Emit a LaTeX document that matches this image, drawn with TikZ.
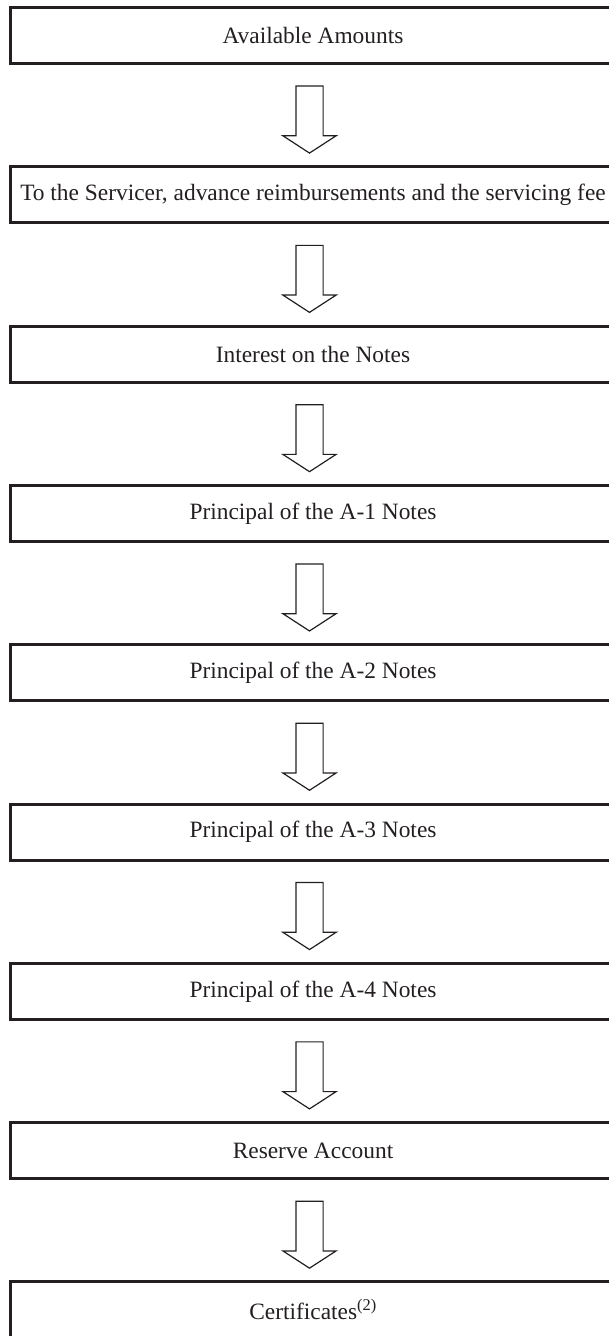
\documentclass[tikz,border=0pt]{standalone}
\usepackage{fontspec}
\setmainfont{Liberation Serif}
\usepackage{xcolor}
\usetikzlibrary{shapes,arrows,positioning,calc}
\tikzset{
  font={\fontsize{23.4pt}{27}\selectfont}
}
\definecolor{colorK}{RGB}{35,31,32}
\tikzstyle{block}=[draw=colorK, line width=3pt, minimum width=605pt, minimum height=56pt, inner sep=0pt, text=colorK]
\tikzstyle{fatarrow}=[draw=colorK, line width=1.2pt, single arrow, rotate=-90, minimum height=67pt, inner xsep=0pt, inner ysep=13pt, single arrow head extend=13pt, single arrow head indent=0pt, single arrow tip angle=114, outer sep=0pt]

\begin{document}
\begin{tikzpicture}[node distance=100.3pt]
\useasboundingbox (0pt,0pt) rectangle (608pt,-1336pt);

\node[block] (avail) at (313pt,-35.5pt) {Available Amounts};
\node[block,below=of avail] (servicer) {To the Servicer, advance reimbursements and the servicing fee};
\node[block,below=of servicer] (interest) {Interest on the Notes};
\node[block,below=of interest] (princA1) {Principal of the A-1 Notes};
\node[block,below=of princA1] (princA2) {Principal of the A-2 Notes};
\node[block,below=of princA2] (princA3) {Principal of the A-3 Notes};
\node[block,below=of princA3] (princA4) {Principal of the A-4 Notes};
\node[block,below=of princA4] (reserve) {Reserve Account};
\node[block,below=of reserve] (certs) {Certificates\textsuperscript{(2)}};

%%% arrows between the steps
\node[fatarrow,yshift=-3.5pt] (arr1) at ($(avail.south)!0.5!(servicer.north)$) {};
\node[fatarrow,yshift=-3.5pt] (arr2) at ($(servicer.south)!0.5!(interest.north)$) {};
\node[fatarrow,yshift=-3.5pt] (arr3) at ($(interest.south)!0.5!(princA1.north)$) {};
\node[fatarrow,yshift=-3.5pt] (arr4) at ($(princA1.south)!0.5!(princA2.north)$) {};
\node[fatarrow,yshift=-3.5pt] (arr5) at ($(princA2.south)!0.5!(princA3.north)$) {};
\node[fatarrow,yshift=-3.5pt] (arr6) at ($(princA3.south)!0.5!(princA4.north)$) {};
\node[fatarrow,yshift=-3.5pt] (arr7) at ($(princA4.south)!0.5!(reserve.north)$) {};
\node[fatarrow,yshift=-3.5pt] (arr8) at ($(reserve.south)!0.5!(certs.north)$) {};

\end{tikzpicture}
\end{document}
